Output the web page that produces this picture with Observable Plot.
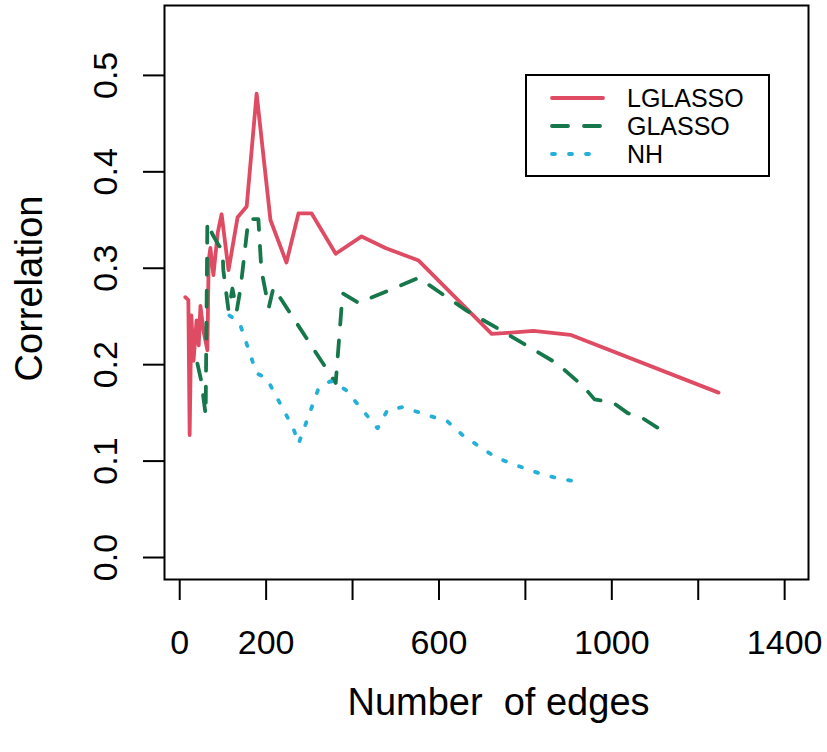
<!DOCTYPE html>
<html>
<head>
<meta charset="utf-8">
<script src="https://cdn.jsdelivr.net/npm/d3@7"></script>
<script src="https://cdn.jsdelivr.net/npm/@observablehq/plot@0.6"></script>
<style>
  html, body { margin: 0; padding: 0; background: #fff; }
  #wrap { position: relative; width: 827px; height: 752px; font-family: "Liberation Sans", Arial, sans-serif; }
  #legend { position: absolute; left: 525px; top: 74px; width: 245px; height: 103px; box-sizing: border-box; border: 2px solid #000; background: #fff; }
  #legend svg { position: absolute; left: -2px; top: -2px; overflow: visible; }
</style>
</head>
<body>
<div id="wrap"><div id="legend"></div></div>
<script>
// ---- data ----
const seriesNames = ["LGLASSO", "GLASSO", "NH"];
const seriesColors = ["#DF4B63", "#16784A", "#25B0D8"];
const seriesDash = ["none", "16,16", "3,14"];

const lglassoEdges = [13, 20, 23, 27, 32, 39, 44, 48, 55, 64, 67, 71, 78, 88, 97, 113, 134, 155, 178, 210, 247, 275, 305, 361, 421, 476, 553, 722, 759, 819, 904, 1247];
const lglassoCor   = [0.270, 0.267, 0.127, 0.251, 0.204, 0.246, 0.220, 0.261, 0.235, 0.215, 0.308, 0.321, 0.293, 0.337, 0.356, 0.298, 0.353, 0.364, 0.481, 0.350, 0.306, 0.357, 0.357, 0.315, 0.333, 0.321, 0.308, 0.232, 0.233, 0.235, 0.231, 0.171];

const glassoEdges = [41, 50, 60, 64, 76, 90, 99, 101, 106, 113, 122, 132, 141, 159, 182, 189, 206, 217, 361, 377, 414, 553, 664, 742, 874, 935, 960, 1002, 1036, 1073, 1115];
const glassoCor   = [0.201, 0.183, 0.148, 0.348, 0.335, 0.324, 0.319, 0.298, 0.280, 0.256, 0.279, 0.256, 0.280, 0.351, 0.351, 0.298, 0.259, 0.280, 0.181, 0.274, 0.264, 0.290, 0.256, 0.236, 0.201, 0.177, 0.164, 0.161, 0.150, 0.144, 0.132];

const nhEdges = [115, 138, 178, 201, 263, 275, 321, 349, 384, 458, 481, 516, 557, 620, 657, 731, 770, 847, 935];
const nhCor   = [0.251, 0.244, 0.191, 0.186, 0.134, 0.118, 0.175, 0.183, 0.174, 0.134, 0.153, 0.156, 0.150, 0.141, 0.126, 0.104, 0.097, 0.085, 0.077];

const xTicks = [0, 200, 400, 600, 800, 1000, 1200, 1400];
const xTickLabels = ["0", "200", "", "600", "", "1000", "", "1400"];
const yTicks = [0, 0.1, 0.2, 0.3, 0.4, 0.5];
const yTickLabels = ["0.0", "0.1", "0.2", "0.3", "0.4", "0.5"];
const xTitle = "Number\u00A0 of edges";
const yTitle = "Correlation";

// ---- build tables ----
const toRows = (xs, ys, name) => xs.map((x, i) => ({edges: x, cor: ys[i], series: name}));
const tables = [
  toRows(lglassoEdges, lglassoCor, seriesNames[0]),
  toRows(glassoEdges, glassoCor, seriesNames[1]),
  toRows(nhEdges, nhCor, seriesNames[2])
];

const FS = 34;   // tick labels
const TFS = 38;  // axis titles
const lineMarks = tables.map((rows, k) => Plot.line(rows, {
  x: "edges", y: "cor",
  stroke: seriesColors[k], strokeWidth: 3.8,
  strokeDasharray: seriesDash[k] === "none" ? undefined : seriesDash[k],
  strokeLinecap: "round", strokeLinejoin: "round"
}));

const chart = Plot.plot({
  width: 827, height: 752,
  marginLeft: 164, marginRight: 19, marginTop: 5, marginBottom: 173,
  x: {domain: [-35.2, 1455.2]},
  y: {domain: [-0.0228, 0.5725]},
  style: {fontFamily: "'Liberation Sans', Arial, sans-serif", background: "#fff", color: "#000"},
  marks: [
    ...lineMarks,
    Plot.frame({stroke: "#000", strokeWidth: 2}),
    Plot.axisX(xTicks, {anchor: "bottom", tickSize: 21, tickPadding: 29, strokeWidth: 2, fontSize: FS, label: null,
      tickFormat: d => xTickLabels[xTicks.indexOf(d)]}),
    Plot.axisY(yTicks, {anchor: "left", tickSize: 21, strokeWidth: 2, label: null, tickFormat: () => ""}),
    Plot.text(yTicks, {y: d => d, text: d => yTickLabels[yTicks.indexOf(d)], frameAnchor: "left",
      dx: -48, rotate: -90, lineAnchor: "bottom", textAnchor: "middle", fontSize: FS, fill: "#000"}),
    Plot.text([yTitle], {text: d => d, frameAnchor: "left", dx: -123, dy: -4, rotate: -90, lineAnchor: "bottom",
      textAnchor: "middle", fontSize: TFS, fill: "#000"}),
    Plot.text([xTitle], {text: d => d, frameAnchor: "bottom", dx: 12, dy: 135, lineAnchor: "bottom",
      textAnchor: "middle", fontSize: TFS, fill: "#000"})
  ]
});
chart.style.position = "absolute";
chart.style.left = "0px";
chart.style.top = "0px";
const wrap = document.getElementById("wrap");
wrap.insertBefore(chart, wrap.firstChild);

// ---- legend ----
const legend = d3.select("#legend").append("svg").attr("width", 245).attr("height", 103);
const rowY = [24, 52, 80];
seriesNames.forEach((name, k) => {
  legend.append("line")
    .attr("x1", 27).attr("x2", 78).attr("y1", rowY[k]).attr("y2", rowY[k])
    .attr("stroke", seriesColors[k]).attr("stroke-width", 3.8)
    .attr("stroke-linecap", "round")
    .attr("stroke-dasharray", seriesDash[k] === "none" ? null : seriesDash[k]);
  legend.append("text")
    .attr("x", 102).attr("y", rowY[k]).attr("dy", "0.36em")
    .attr("font-size", 25).attr("font-family", "'Liberation Sans', Arial, sans-serif")
    .attr("fill", "#000").text(name);
});
</script>
</body>
</html>
